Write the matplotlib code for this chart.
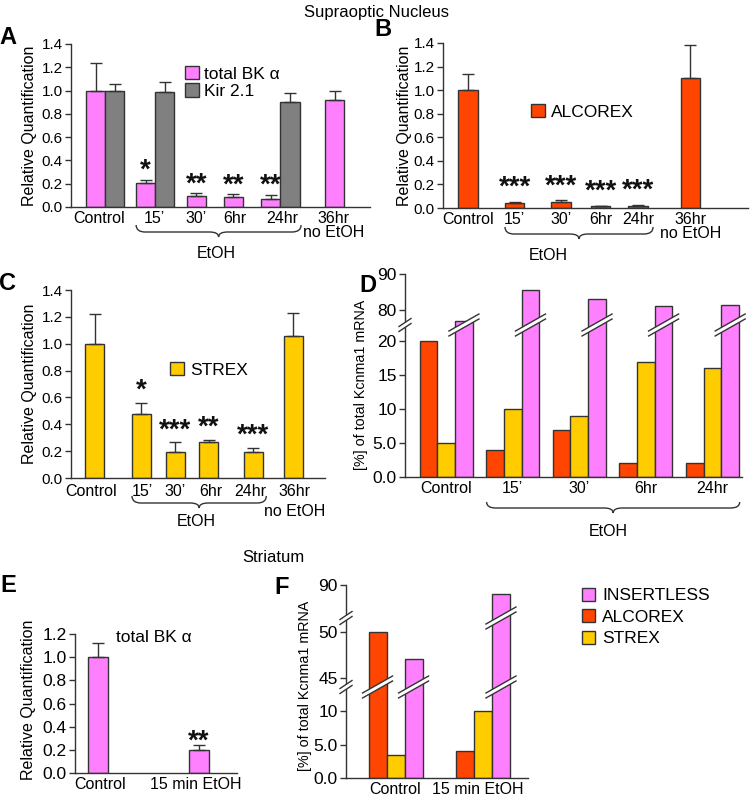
import numpy as np
import matplotlib
matplotlib.use("Agg")
import matplotlib.pyplot as plt
from matplotlib.patches import Polygon, PathPatch
from matplotlib.path import Path
from matplotlib.lines import Line2D
from matplotlib.transforms import IdentityTransform

plt.rcParams["font.family"] = ["Liberation Sans", "DejaVu Sans"]

W, H = 750, 797
PINK = "#ff80ff"
GRAY = "#808080"
ORANGE = "#ff4500"
YELLOW = "#ffcc00"
EDGE = "#333333"

# ---- data ----
time_labels = ["Control", "15\u2019", "30\u2019", "6hr", "24hr", "36hr\nno EtOH"]

bk_a = [1.0, 0.21, 0.097, 0.083, 0.069, 0.92]
bk_a_err = [0.235, 0.025, 0.02, 0.025, 0.034, 0.078]
bk_a_stars = ["", "*", "**", "**", "**", ""]
kir_idx = [0, 1, 4]            # time points where Kir 2.1 was measured
kir = [1.0, 0.99, 0.905]
kir_err = [0.06, 0.08, 0.072]

alcorex = [1.0, 0.045, 0.055, 0.015, 0.02, 1.1]
alcorex_err = [0.135, 0.01, 0.01, 0.005, 0.008, 0.28]
alcorex_stars = ["", "***", "***", "***", "***", ""]

strex = [1.0, 0.48, 0.19, 0.27, 0.195, 1.06]
strex_err = [0.22, 0.08, 0.075, 0.013, 0.03, 0.167]
strex_stars = ["", "*", "***", "**", "***", ""]

d_labels = ["Control", "15\u2019", "30\u2019", "6hr", "24hr"]
d_alcorex = [20, 4, 7, 2, 2]
d_strex = [5, 10, 9, 17, 16]
d_insertless = [77, 85.5, 83, 81, 81.5]

e_labels = ["Control", "15 min EtOH"]
e_bk = [1.0, 0.2]
e_bk_err = [0.12, 0.04]
e_stars = ["", "**"]

f_labels = ["Control", "15 min EtOH"]
f_alcorex = [50, 4]
f_strex = [3.4, 10]
f_insertless = [47, 82]

fig = plt.figure(figsize=(W / 100, H / 100), dpi=100)


def add_ax(l, t, r, b, ysize=11):
    ax = fig.add_axes([l / W, 1 - b / H, (r - l) / W, (b - t) / H])
    for s in ("top", "right"):
        ax.spines[s].set_visible(False)
    for s in ("left", "bottom"):
        ax.spines[s].set_color(EDGE)
        ax.spines[s].set_linewidth(1)
    ax.tick_params(axis="y", direction="out", length=4, width=1, color=EDGE,
                   labelsize=ysize, pad=2)
    ax.tick_params(axis="x", length=0, labelsize=11.5, pad=3)
    return ax


def bars(ax, x, h, color, err=None):
    cont = ax.bar(x, h, width=1, color=color, edgecolor=EDGE, linewidth=1, zorder=2)
    if err is not None:
        ax.errorbar(x, h, yerr=[np.zeros(len(h)), err], fmt="none", ecolor=EDGE,
                    elinewidth=1, capsize=4, capthick=1, zorder=3)
    return cont


def stars(ax, x, h, err, marks, off_px):
    for xi, hi, ei, m in zip(x, h, err, marks):
        if m:
            ax.annotate(m, (xi, hi + ei), xytext=(0, off_px), textcoords="offset pixels",
                        ha="center", va="center", fontsize=20, fontweight="bold",
                        color="#111111")


def brace(ax, x1, x2, y_px, end_h=7, tip_h=5, r=9):
    X1 = ax.transData.transform((x1, 0))[0]
    X2 = ax.transData.transform((x2, 0))[0]
    Y0 = H - y_px
    Yb = Y0 - end_h
    Yt = Yb - tip_h
    xm = (X1 + X2) / 2
    verts = [(X1, Y0), (X1, Yb), (X1 + r, Yb), (xm - r, Yb), (xm, Yb), (xm, Yt),
             (xm, Yb), (xm + r, Yb), (X2 - r, Yb), (X2, Yb), (X2, Y0)]
    codes = [Path.MOVETO, Path.CURVE3, Path.CURVE3, Path.LINETO, Path.CURVE3, Path.CURVE3,
             Path.CURVE3, Path.CURVE3, Path.LINETO, Path.CURVE3, Path.CURVE3]
    fig.add_artist(PathPatch(Path(verts, codes), fill=False, ec=EDGE, lw=1,
                             transform=IdentityTransform()))


def cut(ax, x, y, hw, rise, gap=5):
    X, Y = ax.transData.transform((x, y))
    lo = [(X - hw, Y - rise / 2 - gap / 2), (X + hw, Y + rise / 2 - gap / 2)]
    hi = [(X + hw, Y + rise / 2 + gap / 2), (X - hw, Y - rise / 2 + gap / 2)]
    fig.add_artist(Polygon(lo + hi, closed=True, fc="white", ec="none",
                           transform=IdentityTransform(), zorder=5))
    for seg in (lo, hi):
        fig.add_artist(Line2D([p[0] for p in seg], [p[1] for p in seg], color=EDGE,
                              lw=1, transform=IdentityTransform(), zorder=6))


def broken_scale(vals, pix):
    pix_inv = np.array(pix, float) + np.arange(len(pix)) * 1e-4
    fwd = lambda v: np.interp(v, vals, pix_inv)
    inv = lambda p: np.interp(p, pix_inv, vals)
    return fwd, inv


def ylab(ax, text, x, y=0.5, size=11.5):
    ax.set_ylabel(text, fontsize=size, va="center")
    ax.yaxis.set_label_coords(x, y)


def ftext(ax, x, y_px, s, **kw):
    X = ax.transData.transform((x, 0))[0]
    fig.text(X / W, 1 - y_px / H, s, ha="center", va="center", **kw)


rq_ticks = np.arange(0, 1.41, 0.2)

# ---- A: total BK alpha / Kir 2.1 ----
axA = add_ax(71, 44, 370, 207)
a_x = np.array([1.29, 3.92, 6.58, 8.53, 10.5, 13.84])
bA = bars(axA, a_x, bk_a, PINK, bk_a_err)
kA = bars(axA, a_x[kir_idx] + 1, kir, GRAY, kir_err)
stars(axA, a_x, bk_a, bk_a_err, bk_a_stars, 9)
axA.set_xlim(0, 15.7)
axA.set_ylim(0, 1.4)
axA.set_yticks(rq_ticks, [f"{t:.1f}" for t in rq_ticks])
axA.set_xticks([1.45, 4.4, 6.55, 8.6, 11.1, 13.8], time_labels)
axA.get_xticklabels()[-1].set_linespacing(0.9)
ylab(axA, "Relative Quantification", -0.14)
axA.legend([bA, kA], ["total BK \u03b1", "Kir 2.1"], loc="upper left",
           bbox_to_anchor=(185 / W, 1 - 66 / H), bbox_transform=fig.transFigure,
           frameon=False, fontsize=12.5, borderpad=0, borderaxespad=0,
           handlelength=0.8, handleheight=0.8, handletextpad=0.3, labelspacing=0.1)
brace(axA, 3.42, 12.08, 225)
ftext(axA, 7.65, 253, "EtOH", fontsize=11.5)

# ---- B: ALCOREX ----
axB = add_ax(443, 43, 748, 208)
b_x = np.array([1.28, 3.67, 6.05, 8.08, 10.0, 12.69])
bB = bars(axB, b_x, alcorex, ORANGE, alcorex_err)
stars(axB, b_x, alcorex, alcorex_err, alcorex_stars, 14)
axB.set_xlim(0, 15.64)
axB.set_ylim(0, 1.4)
axB.set_yticks(rq_ticks, [f"{t:.1f}" for t in rq_ticks])
axB.set_xticks(b_x, time_labels)
axB.get_xticklabels()[-1].set_linespacing(0.9)
ylab(axB, "Relative Quantification", -0.125)
axB.legend([bB], ["ALCOREX"], loc="upper left",
           bbox_to_anchor=(531 / W, 1 - 104 / H), bbox_transform=fig.transFigure,
           frameon=False, fontsize=12.5, borderpad=0, borderaxespad=0,
           handlelength=0.8, handleheight=0.8, handletextpad=0.35)
brace(axB, 3.18, 10.77, 227)
ftext(axB, 5.38, 255, "EtOH", fontsize=11.5)

# ---- C: STREX ----
axC = add_ax(71, 290, 325, 478)
c_x = np.array([1.24, 3.71, 5.5, 7.26, 9.6, 11.7])
bC = bars(axC, c_x, strex, YELLOW, strex_err)
stars(axC, c_x, strex, strex_err, strex_stars, 12)
axC.set_xlim(0, 13.37)
axC.set_ylim(0, 1.4)
axC.set_yticks(rq_ticks, [f"{t:.1f}" for t in rq_ticks])
# second line of the last label is set lower here, as in the original
c_first, c_second = time_labels[-1].split("\n")
axC.set_xticks([1.05, 3.75, 5.5, 7.35, 9.45, 11.75], time_labels[:-1] + [c_first])
axC.tick_params(axis="x", pad=4)
ftext(axC, 11.75, 512, c_second, fontsize=11.5)
ylab(axC, "Relative Quantification", -0.165)
axC.legend([bC], ["STREX"], loc="upper left",
           bbox_to_anchor=(170 / W, 1 - 362 / H), bbox_transform=fig.transFigure,
           frameon=False, fontsize=12.5, borderpad=0, borderaxespad=0,
           handlelength=0.8, handleheight=0.8, handletextpad=0.35)
brace(axC, 3.21, 10.28, 496)
ftext(axC, 6.6, 521, "EtOH", fontsize=11.5)

# ---- D: splice variant share, SON (broken axis 22.4 -> 75.8) ----
axD = add_ax(405, 274, 742, 477, ysize=12.5)
d_vals, d_pix = [0, 22.4, 75.8, 90], [0, 152, 152, 203]
axD.set_yscale("function", functions=broken_scale(d_vals, d_pix))
d_g = 2.33 + 3.76 * np.arange(len(d_labels))
bars(axD, d_g - 1, d_alcorex, ORANGE)
bars(axD, d_g, d_strex, YELLOW)
bars(axD, d_g + 1, d_insertless, PINK)
axD.set_xlim(0, 19.04)
axD.set_ylim(0, 90)
axD.set_yticks([0, 5, 10, 15, 20, 80, 90], ["0.0", "5.0", "10", "15", "20", "80", "90"])
axD.set_xticks(d_g, d_labels)
ylab(axD, "[%] of total Kcnma1 mRNA", -0.13, 0.453, size=10.3)
cut(axD, 0, 22.4, 6, 8)
for xi, hi in zip(d_g + 1, d_insertless):
    if hi > 22.4:
        cut(axD, xi, 22.4, 15, 17)
brace(axD, 4.61, 18.91, 502, end_h=6, tip_h=5)
ftext(axD, 11.5, 532, "EtOH", fontsize=11.5)

# ---- E: total BK alpha, striatum ----
axE = add_ax(75, 634, 237, 773, ysize=12.5)
e_x = np.array([1.15, 6.2])
bars(axE, e_x, e_bk, PINK, e_bk_err)
stars(axE, e_x, e_bk, e_bk_err, e_stars, 4)
axE.set_xlim(0, 8.1)
axE.set_ylim(0, 1.2)
e_ticks = np.arange(0, 1.21, 0.2)
axE.set_yticks(e_ticks, [f"{t:.1f}" for t in e_ticks])
axE.set_xticks([1.25, 6.05], e_labels)
ylab(axE, "Relative Quantification", -0.284, 0.53)
fig.text(116 / W, 1 - 637 / H, "total BK \u03b1", ha="left", va="center", fontsize=12.5)

# ---- F: splice variant share, striatum (two breaks) ----
axF = add_ax(346, 585, 528, 778, ysize=12.5)
f_vals, f_pix = [0, 13.6, 44, 51.5, 60, 90], [0, 91, 91, 160, 160, 193]
axF.set_yscale("function", functions=broken_scale(f_vals, f_pix))
f_g = np.array([2.75, 7.6])
bF1 = bars(axF, f_g - 1, f_alcorex, ORANGE)
bF2 = bars(axF, f_g, f_strex, YELLOW)
bF3 = bars(axF, f_g + 1, f_insertless, PINK)
axF.set_xlim(0, 10.1)
axF.set_ylim(0, 90)
axF.set_yticks([0, 5, 10, 45, 50, 90], ["0.0", "5.0", "10", "45", "50", "90"])
axF.set_xticks([2.75, 7.3], f_labels)
ylab(axF, "[%] of total Kcnma1 mRNA", -0.225, 0.477, size=10.3)
for brk in (13.6, 51.5):
    cut(axF, 0, brk, 6, 8)
    for xs, hs in ((f_g - 1, f_alcorex), (f_g, f_strex), (f_g + 1, f_insertless)):
        for xi, hi in zip(xs, hs):
            if hi > brk:
                cut(axF, xi, brk, 15, 17)
axF.legend([bF3, bF1, bF2], ["INSERTLESS", "ALCOREX", "STREX"], loc="upper left",
           bbox_to_anchor=(582 / W, 1 - 588 / H), bbox_transform=fig.transFigure,
           frameon=False, fontsize=12.5, borderpad=0, borderaxespad=0,
           handlelength=0.75, handleheight=0.75, handletextpad=0.4, labelspacing=0.35)

# ---- titles and panel letters ----
fig.text(376 / W, 1 - 12 / H, "Supraoptic Nucleus", ha="center", va="center", fontsize=12)
fig.text(273 / W, 1 - 557 / H, "Striatum", ha="center", va="center", fontsize=12)
for letter, (px, py) in {"A": (8, 37), "B": (383, 30), "C": (8, 284), "D": (368, 285),
                         "E": (8, 585), "F": (282, 588)}.items():
    fig.text(px / W, 1 - py / H, letter, ha="center", va="center",
             fontsize=17, fontweight="bold")

fig.savefig("out.png", dpi=100)
